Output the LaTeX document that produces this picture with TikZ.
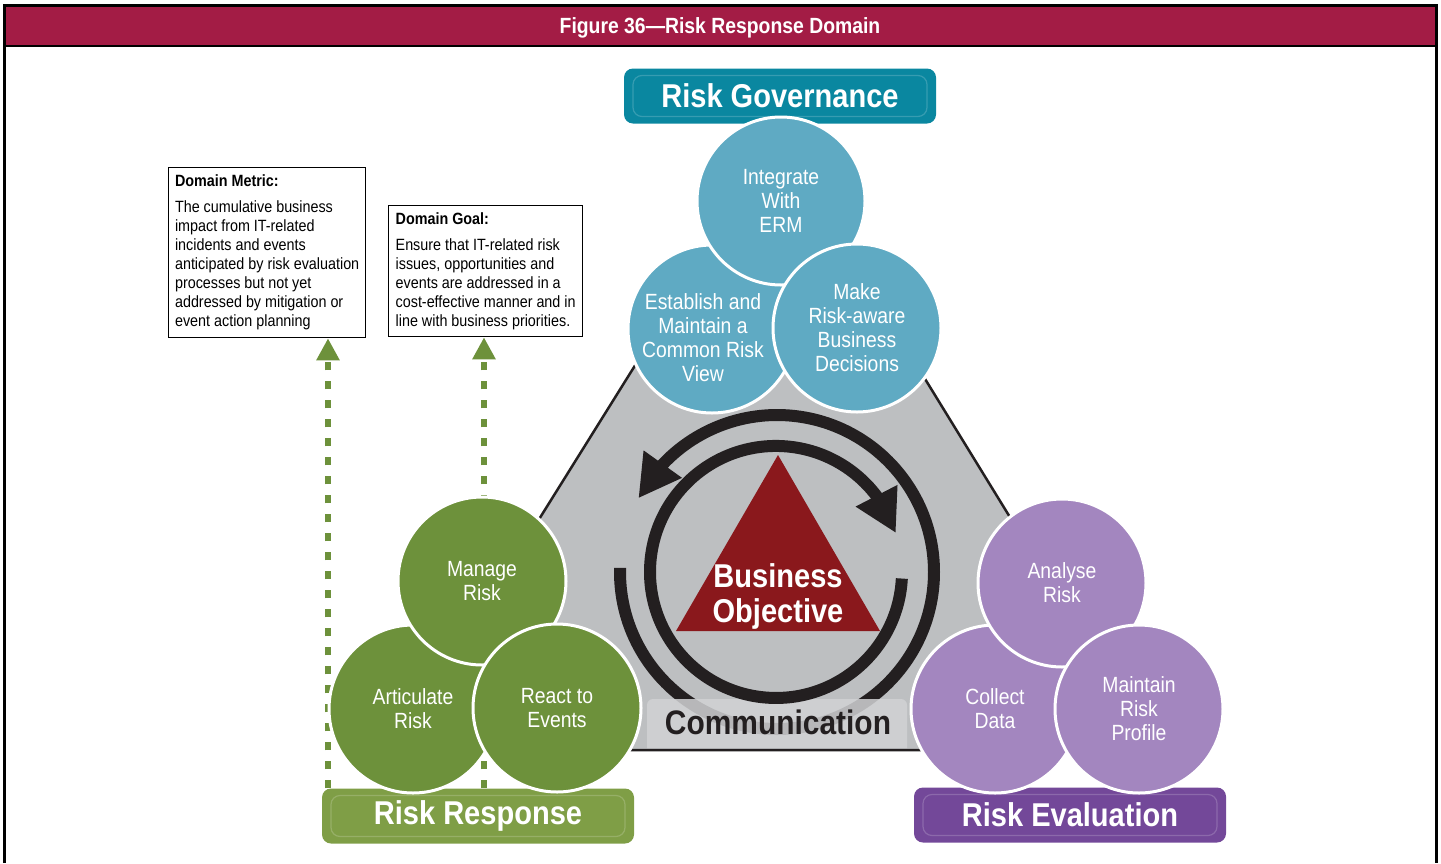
\documentclass[tikz,border=0pt]{standalone}
\usepackage{fontspec}
\setmainfont{Liberation Sans}[FakeStretch=0.88]
\usepackage{tikz}
\usetikzlibrary{arrows.meta,bending,positioning}

\definecolor{figred}{HTML}{A31C45}
\definecolor{govteal}{HTML}{5FAAC3}
\definecolor{govbar}{HTML}{0A87A0}
\definecolor{respgreen}{HTML}{6D913B}
\definecolor{respbar}{HTML}{7F9E46}
\definecolor{evalpurple}{HTML}{A386BF}
\definecolor{evalbar}{HTML}{734899}
\definecolor{hexgray}{HTML}{BDBFC1}
\definecolor{objred}{HTML}{8A181C}
\definecolor{ringblack}{HTML}{231F20}

\begin{document}
\begin{tikzpicture}[x=1pt,y=-1pt,
  proc/.style={circle,draw=white,line width=3pt,minimum size=168pt,inner sep=0pt,
    text=white,align=center,font=\fontsize{22}{24}\selectfont},
  phase/.style={rounded corners=9pt,minimum width=312pt,minimum height=55pt,inner sep=0pt,
    text=white,font=\bfseries\fontsize{33}{36}\selectfont,
    path picture={\draw[white,opacity=.18,line width=1.2pt]
      ([shift={(9pt,-7pt)}]path picture bounding box.north west) rectangle
      ([shift={(-9pt,7pt)}]path picture bounding box.south east);}},
  infobox/.style={draw,line width=1.3pt,fill=white,anchor=north west,align=left,inner sep=0pt,
    font=\fontsize{16.3}{19}\selectfont},
  feedback/.style={respgreen,line width=6pt,dash pattern=on 8pt off 11pt,
    -{Triangle[width=22pt,length=22pt]}},
  loopring/.style={ringblack,line width=12pt}]
\useasboundingbox (0,0) rectangle (1441,863);

% frame and caption bar
\fill[figred] (5,7) rectangle (1436,45);
\draw[line width=3pt] (4.5,863) -- (4.5,5.5) -- (1436.5,5.5) -- (1436.5,863);
\draw[line width=2.5pt] (4.5,46) -- (1436.5,46);
\node[text=white,font=\bfseries\fontsize{22}{24}\selectfont] (caption) at (720,28) {Figure 36—Risk Response Domain};

% metric and goal
\node[infobox,minimum width=197pt,minimum height=170pt] (metric) at (168,167)
  {\textbf{Domain Metric:}\\[7pt]The cumulative business\\impact from IT-related\\incidents and events\\anticipated by risk evaluation\\processes but not yet\\addressed by mitigation or\\event action planning};
\node[infobox,minimum width=194pt,minimum height=131pt] (goal) at (388,205)
  {\textbf{Domain Goal:}\\[7pt]Ensure that IT-related risk\\issues, opportunities and\\events are addressed in a\\cost-effective manner and in\\line with business priorities.};

% banners
\node[phase,fill=govbar] (gov) at (780,96) {Risk Governance};
\node[phase,fill=respbar] (resp) at (478,816) {Risk Response};
\node[phase,fill=evalbar] (eval) at (1070,815) {Risk Evaluation};

\coordinate (mfoot) at (328,0);
\coordinate (gfoot) at (484,0);
\draw[feedback] (resp.north -| mfoot) -- (mfoot |- metric.south);
\draw[feedback] (resp.north -| gfoot) -- (gfoot |- goal.south);

% grey field behind the cycle
\filldraw[fill=hexgray,draw=ringblack,line width=2.5pt,line join=round] (777,138) -- (1153,750) -- (395,750) -- cycle;

% the two cycle arrows
\coordinate (hub) at (777,572);
\draw[loopring,-{Triangle[width=44pt,length=42pt]}] (hub) ++(181.5:157) arc[start angle=181.5,end angle=-152,radius=157];
\fill[hexgray!70!white,opacity=.85] (647,748) [rounded corners=6pt] -- (647,699) -- (907,699) [sharp corners] -- (907,748) -- cycle;
\draw[loopring,-{Triangle[width=44pt,length=42pt]}] (hub) ++(3:125) arc[start angle=3,end angle=342,radius=126];

\fill[objred] (778,455) -- (880,631) -- (676,631) -- cycle;
\node[text=white,align=center,font=\bfseries\fontsize{33}{35}\selectfont] (objective) at (778,596) {Business\\Objective};
\node[text=ringblack,font=\bfseries\fontsize{34}{36}\selectfont] (comm) at (778,722) {Communication};

% governance
\node[proc,fill=govteal,label={[text=white,align=center,font=\fontsize{22}{24}\selectfont,xshift=-9pt,yshift=-9pt]center:Establish and\\Maintain a\\Common Risk\\View}] (est) at (712,329) {};
\node[proc,fill=govteal] (erm) at (781,201) {Integrate\\With\\ERM};
\node[proc,fill=govteal] (decide) at (857,328) {Make\\Risk-aware\\Business\\Decisions};

% response
\node[proc,fill=respgreen] (artic) at (413,709) {Articulate\\Risk};
\node[proc,fill=respgreen] (manage) at (482,581) {Manage\\Risk};
\node[proc,fill=respgreen] (react) at (557,708) {React to\\Events};

% evaluation
\node[proc,fill=evalpurple] (collect) at (995,709) {Collect\\Data};
\node[proc,fill=evalpurple] (analyse) at (1062,583) {Analyse\\Risk};
\node[proc,fill=evalpurple] (profile) at (1139,709) {Maintain\\Risk\\Profile};
\end{tikzpicture}
\end{document}
